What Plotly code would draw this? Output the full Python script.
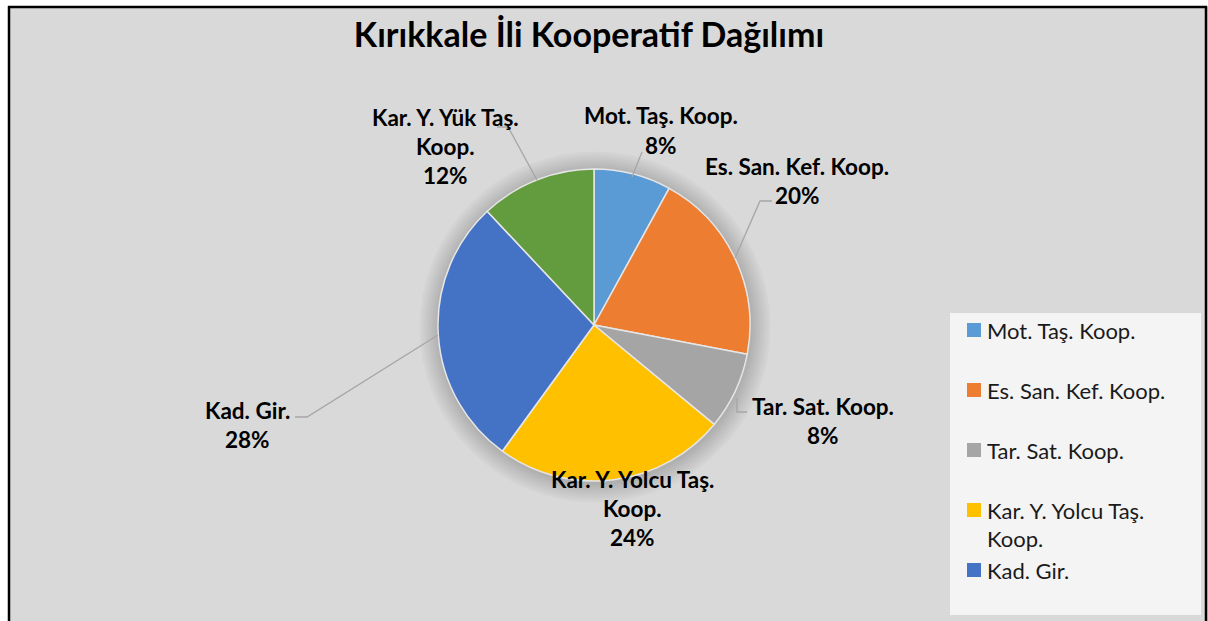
import plotly.graph_objects as go

W, H = 1208, 621

# slices, clockwise from 12 o'clock
labels = ["Mot. Taş. Koop.", "Es. San. Kef. Koop.", "Tar. Sat. Koop.",
          "Kar. Y. Yolcu Taş. Koop.", "Kad. Gir.", "Kar. Y. Yük Taş. Koop."]
values = [8, 20, 8, 24, 28, 12]
colors = ["#5B9BD5", "#ED7D31", "#A5A5A5", "#FFC000", "#4472C4", "#639B3F"]

# how the data labels / legend entries wrap
label_lines = [["Mot. Taş. Koop."], ["Es. San. Kef. Koop."], ["Tar. Sat. Koop."],
               ["Kar. Y. Yolcu Taş.", "Koop."], ["Kad. Gir."], ["Kar. Y. Yük Taş.", "Koop."]]

# data label placement (pixels): centre x, first line y
label_pos = [(661, 116), (797, 166), (823, 406), (632, 479), (247, 410), (445, 118)]
# leader lines (pixels)
leaders = [
    [(642, 152), (632, 177)],
    [(772, 201), (760, 201), (735, 258)],
    [(747, 412), (737, 412), (737, 398)],
    None,
    [(295, 417), (307, 417), (438, 335)],
    [(497, 127), (508, 127), (537, 180)],
]

FONT = "Lato"
cx, cy, r = 594, 325, 156


def fx(p):
    return p / W


def fy(p):
    return 1 - p / H


fig = go.Figure(go.Pie(
    labels=labels,
    values=values,
    sort=False,
    direction="clockwise",
    rotation=0,
    textinfo="none",
    hoverinfo="label+percent",
    marker=dict(colors=colors, line=dict(color="#e6e6e6", width=1.5)),
    domain=dict(x=[fx(cx - r), fx(cx + r)], y=[fy(cy + r), fy(cy - r)]),
    showlegend=False,
))

shapes = []
# white page strip above / left of the chart area
shapes.append(dict(type="rect", xref="paper", yref="paper", layer="below",
                   x0=0, x1=1, y0=fy(7), y1=1, fillcolor="white", line=dict(width=0)))
shapes.append(dict(type="rect", xref="paper", yref="paper", layer="below",
                   x0=0, x1=fx(9), y0=0, y1=1, fillcolor="white", line=dict(width=0)))
# chart border (bottom edge falls outside the picture)
shapes.append(dict(type="line", xref="paper", yref="paper",
                   x0=fx(9), x1=fx(9), y0=fy(6), y1=0, line=dict(color="black", width=2.5)))
shapes.append(dict(type="line", xref="paper", yref="paper",
                   x0=fx(8), x1=fx(1207), y0=fy(7), y1=fy(7), line=dict(color="black", width=2.5)))
shapes.append(dict(type="line", xref="paper", yref="paper",
                   x0=fx(1206), x1=fx(1206), y0=fy(6), y1=0, line=dict(color="black", width=2.5)))
# soft shadow round the pie
for k in range(8):
    rr = r + 2 + 2.5 * k
    shapes.append(dict(type="circle", xref="paper", yref="paper", layer="below",
                       x0=fx(cx - rr + 1), x1=fx(cx + rr + 1), y0=fy(cy + rr + 2), y1=fy(cy - rr + 2),
                       fillcolor="rgba(0,0,0,0.022)", line=dict(width=0)))
# leader lines
for pts in leaders:
    if not pts:
        continue
    path = "M " + " L ".join(f"{fx(x)},{fy(y)}" for x, y in pts)
    shapes.append(dict(type="path", xref="paper", yref="paper", path=path,
                       line=dict(color="#a6a6a6", width=1.3)))

annotations = []
total = sum(values)
for lines, v, (x, y) in zip(label_lines, values, label_pos):
    rows = lines + [f"{round(v / total * 100)}%"]
    for i, t in enumerate(rows):
        annotations.append(dict(text=f"<b>{t}</b>", xref="paper", yref="paper",
                                x=fx(x), y=fy(y + 29 * i), xanchor="center", yanchor="middle",
                                showarrow=False, font=dict(family=FONT, size=22.5, color="black")))

# legend box (Excel clips the last entry)
shapes.append(dict(type="rect", xref="paper", yref="paper",
                   x0=fx(950), x1=fx(1201), y0=fy(615), y1=fy(313),
                   fillcolor="#f4f4f4", line=dict(width=0)))
for i in range(5):
    yc = 330 + 60 * i
    shapes.append(dict(type="rect", xref="paper", yref="paper",
                       x0=fx(967), x1=fx(981), y0=fy(yc + 7), y1=fy(yc - 7),
                       fillcolor=colors[i], line=dict(width=0)))
    for j, t in enumerate(label_lines[i]):
        annotations.append(dict(text=t, xref="paper", yref="paper",
                                x=fx(985), y=fy(yc + 28 * j), xanchor="left", yanchor="middle",
                                showarrow=False, font=dict(family=FONT, size=22, color="#1a1a1a")))

fig.update_layout(
    width=W, height=H,
    margin=dict(l=0, r=0, t=0, b=0),
    paper_bgcolor="#d9d9d9",
    plot_bgcolor="#d9d9d9",
    title=dict(text="<b>Kırıkkale İli Kooperatif Dağılımı</b>", x=fx(589), xanchor="center",
               y=fy(35), yanchor="middle", font=dict(family=FONT, size=34, color="black")),
    shapes=shapes,
    annotations=annotations,
)

# drop the page's default 8px body margin so the figure fills the window
fig.write_html("out.html", config={"displayModeBar": False},
               post_script="document.body.style.margin='0';document.body.style.overflow='hidden';")
